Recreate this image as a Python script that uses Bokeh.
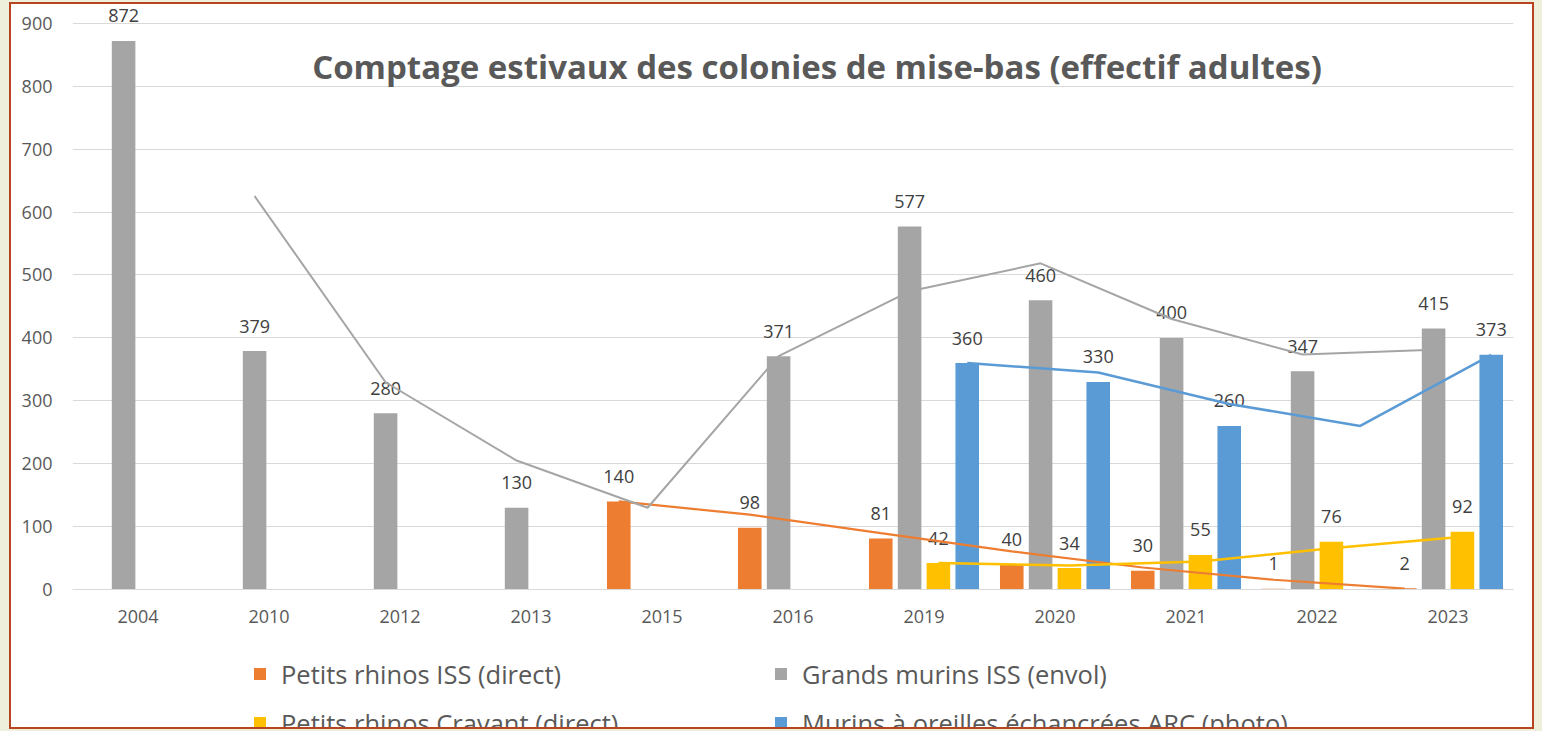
from bokeh.plotting import figure
from bokeh.layouts import column
from bokeh.models import ColumnDataSource, FactorRange, FixedTicker, Legend, LegendItem, Label, Range1d
from bokeh.transform import dodge
from bokeh.core.properties import value
from bokeh.embed import file_html
from bokeh.resources import INLINE

years = ["2004", "2010", "2012", "2013", "2015", "2016", "2019", "2020", "2021", "2022", "2023"]

# Bar series (None = no bar)
petits_iss = [None, None, None, None, 140, 98, 81, 40, 30, 1, 2]
grands_iss = [872, 379, 280, 130, None, 371, 577, 460, 400, 347, 415]
petits_cravant = [None, None, None, None, None, None, 42, 34, 55, 76, 92]
murins_arc = [None, None, None, None, None, None, 360, 330, 260, None, 373]

# Trend lines (2-period moving average)
trend_petits_iss = [None, None, None, None, 140, 119, 89.5, 60.5, 35, 15.5, 1.5]
trend_grands_iss = [None, 625.5, 329.5, 205, 130, 371, 474, 518.5, 430, 373.5, 381]
trend_cravant = [None, None, None, None, None, None, 42, 38, 44.5, 65.5, 84]
trend_arc = [None, None, None, None, None, None, 360, 345, 295, 260, 373]

series_names = ["Petits rhinos ISS (direct)", "Grands murins ISS (envol)",
                "Petits rhinos Cravant (direct)", "Murins à oreilles échancrées ARC (photo)"]
y_ticks = [0, 100, 200, 300, 400, 500, 600, 700, 800, 900]
title_text = "Comptage estivaux des colonies de mise-bas (effectif adultes)"

colors = ["#ED7D31", "#A5A5A5", "#FFC000", "#5B9BD5"]
offsets = [-0.33, -0.11, 0.11, 0.33]
FONT = "Open Sans"

p = figure(width=1521, height=640, x_range=FactorRange(*years), y_range=Range1d(0, 930),
           output_backend="svg", toolbar_location=None,
           min_border_left=61, min_border_right=19, min_border_top=0, min_border_bottom=55)
p.outline_line_color = None
p.background_fill_color = "white"
p.border_fill_color = "white"

p.xgrid.grid_line_color = None
p.ygrid.ticker = FixedTicker(ticks=y_ticks)
p.ygrid.grid_line_color = "#d9d9d9"
p.ygrid.grid_line_width = 1

p.yaxis.ticker = FixedTicker(ticks=y_ticks)
p.yaxis.axis_line_color = None
p.yaxis.major_tick_line_color = None
p.yaxis.major_tick_out = 0
p.yaxis.minor_tick_line_color = None
p.yaxis.major_label_standoff = 20
p.yaxis.major_label_text_font = FONT
p.yaxis.major_label_text_font_size = "18px"
p.yaxis.major_label_text_color = "#595959"

p.xaxis.axis_line_color = "#d9d9d9"
p.xaxis.major_tick_line_color = None
p.xaxis.major_tick_out = 0
p.xaxis.minor_tick_line_color = None
p.xaxis.major_label_standoff = 20
p.xaxis.major_label_text_font = FONT
p.xaxis.major_label_text_font_size = "18px"
p.xaxis.major_label_text_color = "#595959"

all_series = [petits_iss, grands_iss, petits_cravant, murins_arc]
all_trends = [trend_petits_iss, trend_grands_iss, trend_cravant, trend_arc]

for vals, col, off in zip(all_series, colors, offsets):
    xs = [y for y, v in zip(years, vals) if v is not None]
    vs = [v for v in vals if v is not None]
    src = ColumnDataSource(dict(year=xs, val=vs, lbl=[str(v) for v in vs]))
    p.vbar(x=dodge("year", off, range=p.x_range), top="val", width=0.18, source=src,
           fill_color=col, line_color=None)
    p.text(x=dodge("year", off, range=p.x_range), y="val", text="lbl", source=src,
           text_align="center", text_baseline="middle", y_offset=-25,
           text_font=value(FONT), text_font_size="18px", text_color="#404040")

line_widths = [2.2, 2.0, 2.5, 2.5]
for tr, col, off, lw in zip(all_trends, colors, offsets, line_widths):
    xs = [y for y, v in zip(years, tr) if v is not None]
    vs = [v for v in tr if v is not None]
    src = ColumnDataSource(dict(year=xs, val=vs))
    p.line(x=dodge("year", off, range=p.x_range), y="val", source=src,
           line_color=col, line_width=lw)

p.add_layout(Label(x=5.683, y=832, text=title_text, text_align="center", text_baseline="middle",
                   text_font=FONT, text_font_size="33px", text_font_style="bold",
                   text_color="#595959"))

# Legend strip below the chart
lg = figure(width=1521, height=83, x_range=Range1d(0, 1), y_range=Range1d(0, 1),
            output_backend="svg", toolbar_location=None,
            min_border=0, min_border_left=0, min_border_right=0, min_border_top=0, min_border_bottom=0)
lg.axis.visible = False
lg.grid.visible = False
lg.outline_line_color = None
lg.border_fill_color = "white"
lg.background_fill_color = "white"

# off-screen swatch renderers (only used for the legend keys)
swatches = []
for col in colors:
    swatches.append(lg.vbar(x=[-5], top=[-5], width=0.1, fill_color=col, line_color=None))

def make_legend(items, vy):
    return Legend(items=items, location=(180, vy), orientation="horizontal",
                  glyph_width=15, glyph_height=15, label_standoff=14, label_width=472,
                  label_height=35, spacing=20, padding=0, margin=0,
                  border_line_color=None, background_fill_alpha=0,
                  label_text_font=FONT, label_text_font_size="25.5px", label_text_color="#595959")

leg1 = make_legend([LegendItem(label=series_names[0], renderers=[swatches[0]]),
                    LegendItem(label=series_names[1], renderers=[swatches[1]])], 36)
leg2 = make_legend([LegendItem(label=series_names[2], renderers=[swatches[2]]),
                    LegendItem(label=series_names[3], renderers=[swatches[3]])], -13)
lg.add_layout(leg1)
lg.add_layout(leg2)

page = column(p, lg, spacing=0,
              styles={"margin-left": "11px", "margin-top": "4px",
                      "box-shadow": "0 0 0 2px #b8431f, 0 0 0 40px #eef0dc"})

open("out.html", "w").write(file_html(page, INLINE))
